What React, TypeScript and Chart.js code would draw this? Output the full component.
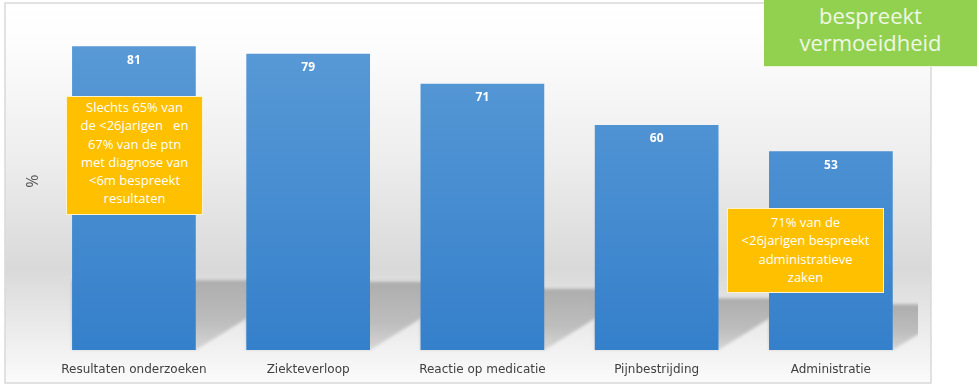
import React, { useEffect, useRef } from "react";
import { Chart, registerables } from "chart.js";

Chart.register(...registerables);

const categories = [
  "Resultaten onderzoeken",
  "Ziekteverloop",
  "Reactie op medicatie",
  "Pijnbestrijding",
  "Administratie",
];
const values = [81, 79, 71, 60, 53];
const yAxisTitle = "%";
const yMin = 0;
const yMax = 90;

const noteResultaten = [
  "Slechts 65% van",
  "de <26jarigen\u00a0\u00a0 en",
  "67% van de ptn",
  "met diagnose van",
  "<6m bespreekt",
  "resultaten",
];
const noteAdministratie = [
  "71% van de",
  "<26jarigen bespreekt",
  "administratieve",
  "zaken",
];
const noteVermoeidheid = ["bespreekt", "vermoeidheid"];

const backgroundPlugin = {
  id: "frameBackground",
  beforeDraw(chart: any) {
    const { ctx } = chart;
    ctx.save();
    ctx.fillStyle = "#ffffff";
    ctx.fillRect(0, 0, chart.width, chart.height);
    const x0 = 5, y0 = 3, x1 = 931, y1 = 383;
    const g = ctx.createLinearGradient(0, y0, 0, y1);
    g.addColorStop(0, "#ffffff");
    g.addColorStop(0.1, "#fdfdfd");
    g.addColorStop(0.4, "#eeeeee");
    g.addColorStop(0.7, "#d9d9d9");
    g.addColorStop(0.9, "#f0f0f0");
    g.addColorStop(1, "#fbfbfb");
    ctx.fillStyle = g;
    ctx.fillRect(x0, y0, x1 - x0, y1 - y0);
    ctx.strokeStyle = "#d9d9d9";
    ctx.lineWidth = 1.5;
    ctx.strokeRect(x0, y0, x1 - x0, y1 - y0);
    ctx.restore();
  },
};

const shadowPlugin = {
  id: "barShadows",
  beforeDatasetsDraw(chart: any) {
    const { ctx, chartArea } = chart;
    const meta = chart.getDatasetMeta(0);
    ctx.save();
    ctx.beginPath();
    ctx.rect(chartArea.left, chartArea.top, chartArea.right - chartArea.left, chartArea.bottom - chartArea.top + 2);
    ctx.clip();
    meta.data.forEach((bar: any) => {
      const left = bar.x - bar.width / 2;
      const right = bar.x + bar.width / 2;
      const bottom = bar.base;
      const h = (bar.base - bar.y) * 0.23;
      const top = bottom - h;
      const W = 60;
      const g = ctx.createLinearGradient(0, top, 0, bottom);
      g.addColorStop(0, "#adadad");
      g.addColorStop(0.6, "#bdbdbd");
      g.addColorStop(1, "#d6d6d6");
      ctx.fillStyle = g;
      ctx.filter = "blur(1.5px)";
      ctx.beginPath();
      ctx.moveTo(left, bottom);
      ctx.lineTo(right, bottom);
      ctx.lineTo(right + W, bottom - W * 0.62);
      ctx.lineTo(right + W, top);
      ctx.lineTo(left, top);
      ctx.closePath();
      ctx.fill();
    });
    ctx.restore();
  },
};

const valueLabelPlugin = {
  id: "valueLabels",
  afterDatasetsDraw(chart: any) {
    const { ctx } = chart;
    const meta = chart.getDatasetMeta(0);
    ctx.save();
    ctx.fillStyle = "#ffffff";
    ctx.font = "bold 12px 'Open Sans', sans-serif";
    ctx.textAlign = "center";
    ctx.textBaseline = "middle";
    meta.data.forEach((bar: any, i: number) => {
      ctx.fillText(String(values[i]), bar.x, bar.y + 14);
    });
    ctx.restore();
  },
};

const noteStyle: React.CSSProperties = {
  position: "absolute",
  background: "#ffc000",
  border: "1px solid #fff3cf",
  color: "#ffffff",
  fontFamily: "'Open Sans', sans-serif",
  fontSize: 13,
  lineHeight: "18.3px",
  textAlign: "center",
  boxSizing: "border-box",
  whiteSpace: "pre",
};

export default function App() {
  const canvasRef = useRef<HTMLCanvasElement | null>(null);

  useEffect(() => {
    const canvas = canvasRef.current;
    if (!canvas) return;
    const chart = new Chart(canvas, {
      type: "bar",
      data: {
        labels: categories,
        datasets: [
          {
            data: values,
            backgroundColor: (c: any) => {
              const { ctx, chartArea } = c.chart;
              if (!chartArea) return "#4a8fd0";
              const g = ctx.createLinearGradient(0, chartArea.top, 0, chartArea.bottom);
              g.addColorStop(0, "#5c9cd7");
              g.addColorStop(1, "#3580cb");
              return g;
            },
            borderWidth: 0,
            categoryPercentage: 1,
            barPercentage: 0.71,
          },
        ],
      },
      options: {
        responsive: false,
        animation: false,
        devicePixelRatio: 1,
        layout: { padding: { left: 24, right: 61, top: 12.5, bottom: 7.6 } },
        plugins: {
          legend: { display: false },
          tooltip: { enabled: false },
        },
        scales: {
          x: {
            grid: { display: false, drawTicks: false },
            border: { display: false },
            ticks: {
              color: "#404040",
              font: { family: "'DejaVu Sans', sans-serif", size: 12 },
              padding: 13,
              maxRotation: 0,
              autoSkip: false,
            },
            afterFit: (s: any) => {
              s.height = 27.4;
            },
          },
          y: {
            min: yMin,
            max: yMax,
            grid: { display: false, drawTicks: false },
            border: { display: false },
            ticks: { display: false },
            title: {
              display: true,
              text: yAxisTitle,
              color: "#595959",
              font: { family: "'Open Sans', sans-serif", size: 16 },
              padding: { top: 0, bottom: 4 },
            },
            afterFit: (s: any) => {
              s.width = 22.8;
            },
          },
        },
      },
      plugins: [backgroundPlugin, shadowPlugin, valueLabelPlugin],
    });
    return () => chart.destroy();
  }, []);

  return (
    <div style={{ position: "fixed", left: 0, top: 0, width: 979, height: 385, overflow: "hidden", background: "#fff" }}>
      <canvas ref={canvasRef} width={979} height={385} style={{ display: "block", width: 979, height: 385 }} />
      <div style={{ ...noteStyle, left: 66, top: 96, width: 137, height: 119, paddingTop: 1 }}>
        {noteResultaten.join("\n")}
      </div>
      <div style={{ ...noteStyle, left: 727, top: 208, width: 157, height: 85, paddingTop: 4 }}>
        {noteAdministratie.join("\n")}
      </div>
      <div
        style={{
          position: "absolute",
          left: 764,
          top: -1,
          width: 213,
          height: 68,
          background: "#92d050",
          borderBottom: "1px solid #e8f4dc",
          color: "#eef8e4",
          fontFamily: "'Open Sans', sans-serif",
          fontSize: 22,
          lineHeight: "27px",
          textAlign: "center",
          boxSizing: "border-box",
          paddingTop: 3,
          whiteSpace: "pre",
        }}
      >
        {noteVermoeidheid.join("\n")}
      </div>
    </div>
  );
}
